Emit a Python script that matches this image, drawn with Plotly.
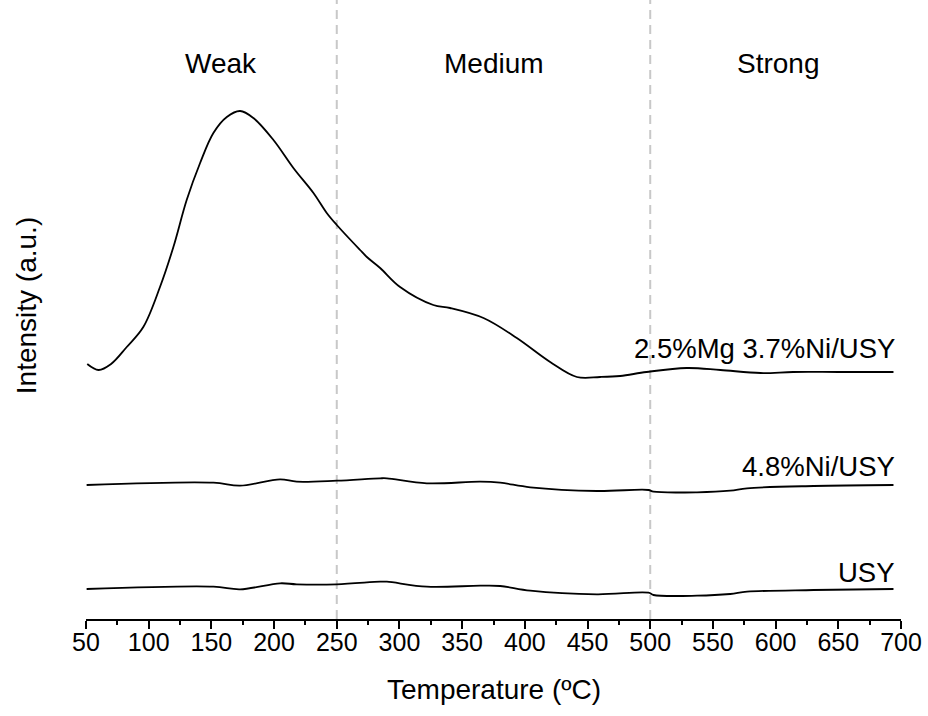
import plotly.graph_objects as go

# NH3-TPD profiles (offset-stacked), temperature in °C, intensity in a.u.
t_mgni = [51, 60, 70, 82.5, 95.7, 109, 119.7, 130.3, 141, 151.6, 162.3, 172.9,
          183.5, 199.5, 215.4, 231.4, 242, 250, 268.6, 274, 284.6, 300.5, 327,
          340.4, 367, 393.6, 420.2, 441.5, 460, 476, 497, 529, 556, 588, 614,
          650, 694]
i_mgni = [2.55, 2.49, 2.55, 2.72, 2.92, 3.32, 3.72, 4.19, 4.56, 4.86, 5.02, 5.08,
          5.01, 4.79, 4.51, 4.26, 4.06, 3.94, 3.69, 3.62, 3.51, 3.32, 3.14,
          3.11, 3.01, 2.81, 2.57, 2.42, 2.42, 2.43, 2.47, 2.51, 2.49, 2.46, 2.47,
          2.47, 2.47]

t_ni = [50.5, 151.6, 172.9, 204.8, 218, 250, 284.6, 290, 321.8, 364.4, 380.3,
        404.3, 457.5, 498.6, 502.6, 537.3, 563.8, 577.2, 630.3, 694]
i_ni = [1.34, 1.363, 1.333, 1.397, 1.373, 1.383, 1.407, 1.407, 1.357, 1.373, 1.363,
        1.317, 1.28, 1.29, 1.273, 1.267, 1.283, 1.307, 1.33, 1.34]

t_usy = [50.5, 151.6, 172.9, 204.8, 218, 250, 284.6, 290, 321.8, 364.4, 380.3,
         404.3, 457.5, 498.6, 502.6, 537.3, 563.8, 577.2, 630.3, 694]
i_usy = [0.30, 0.323, 0.297, 0.357, 0.347, 0.347, 0.373, 0.373, 0.323, 0.333, 0.33,
         0.283, 0.247, 0.263, 0.24, 0.233, 0.25, 0.273, 0.29, 0.30]

sample_names = ["2.5%Mg 3.7%Ni/USY", "4.8%Ni/USY", "USY"]
sample_label_y = [2.71, 1.53, 0.47]

region_names = ["Weak", "Medium", "Strong"]
region_centres = [158, 375, 602]
region_bounds = [250, 500]

x_ticks = list(range(50, 701, 50))

FONT = "Liberation Sans, Arial, sans-serif"

fig = go.Figure()
for t, i in [(t_mgni, i_mgni), (t_ni, i_ni), (t_usy, i_usy)]:
    fig.add_trace(go.Scatter(x=t, y=i, mode="lines",
                             line=dict(color="black", width=1.8, shape="spline", smoothing=1.0),
                             showlegend=False, hoverinfo="skip"))

shapes = []
for b in region_bounds:
    shapes.append(dict(type="line", xref="x", yref="paper", x0=b, x1=b, y0=0, y1=1.01,
                       line=dict(color="#c8c8c8", width=2, dash="9px,6px"), layer="below"))

annotations = []
for name, y in zip(sample_names, sample_label_y):
    annotations.append(dict(x=697, y=y, xref="x", yref="y", text=name, showarrow=False,
                            xanchor="right", yanchor="middle",
                            font=dict(size=27.5, color="black", family=FONT)))
for name, xc in zip(region_names, region_centres):
    annotations.append(dict(x=xc, y=5.56, xref="x", yref="y", text=name, showarrow=False,
                            xanchor="center", yanchor="middle",
                            font=dict(size=28, color="black", family=FONT)))
annotations.append(dict(x=0.5, xref="paper", y=-0.115, yref="paper",
                        text="Temperature (ºC)", showarrow=False,
                        xanchor="center", yanchor="middle",
                        font=dict(size=28, color="black", family=FONT)))
annotations.append(dict(x=-0.072, xref="paper", y=0.51, yref="paper",
                        text="Intensity (a.u.)", showarrow=False, textangle=-90,
                        xanchor="center", yanchor="middle",
                        font=dict(size=28, color="black", family=FONT)))

fig.update_layout(
    width=928, height=716,
    margin=dict(l=86, r=27, t=5, b=97),
    paper_bgcolor="white", plot_bgcolor="white",
    font=dict(family=FONT, color="black"),
    shapes=shapes, annotations=annotations,
    xaxis=dict(range=[50, 700], tickvals=x_ticks, ticktext=[str(v) for v in x_ticks],
               showgrid=False, zeroline=False, showline=True, linecolor="black",
               linewidth=2, ticks="outside", ticklen=8, tickwidth=2, tickcolor="black",
               ticklabelstandoff=-8,
               tickfont=dict(size=25, color="black", family=FONT),
               minor=dict(tickvals=list(range(75, 700, 50)), ticks="outside",
                         ticklen=4, tickwidth=2, tickcolor="black")),
    yaxis=dict(range=[0, 6.14], visible=False),
)

fig.write_html("out.html")
